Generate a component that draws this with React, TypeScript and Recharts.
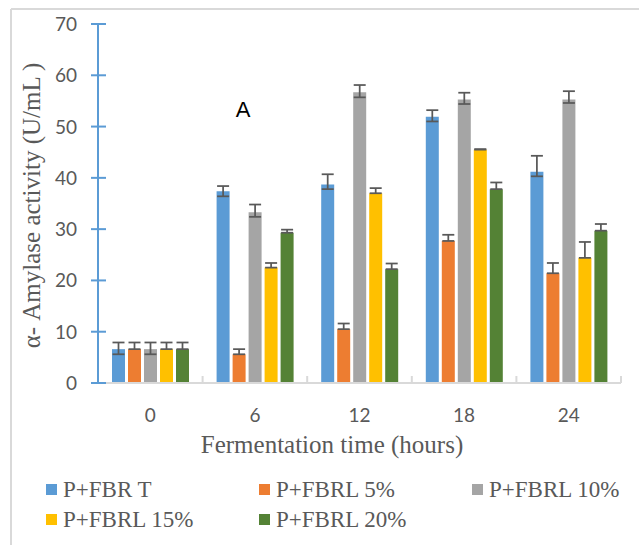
import React from 'react';
import { BarChart, Bar, XAxis, YAxis, ErrorBar, Label } from 'recharts';

// fermentation time (hours)
const hours = ['0', '6', '12', '18', '24'];
const yTicks = [0, 10, 20, 30, 40, 50, 60, 70];

// alpha-amylase activity (U/mL)
const fbrT = [6.6, 37.4, 38.7, 51.9, 41.2];
const fbrl5 = [6.6, 5.6, 10.5, 27.7, 21.4];
const fbrl10 = [6.6, 33.3, 56.7, 55.3, 55.3];
const fbrl15 = [6.6, 22.5, 37.0, 45.5, 24.4];
const fbrl20 = [6.6, 29.3, 22.2, 37.8, 29.7];

// error bars as [minus, plus]
const fbrTErr = [[1.0, 1.3], [1.0, 1.0], [0.9, 2.0], [0.9, 1.3], [0.9, 3.1]];
const fbrl5Err = [[0, 1.3], [0, 1.0], [0, 1.1], [0, 1.2], [0, 2.0]];
const fbrl10Err = [[1.0, 1.3], [0.9, 1.5], [1.0, 1.4], [0.9, 1.3], [0.7, 1.6]];
const fbrl15Err = [[0, 1.3], [0, 0.9], [0, 1.0], [0, 0.1], [0, 3.1]];
const fbrl20Err = [[0, 1.3], [0, 0.6], [0, 1.1], [0, 1.3], [0, 1.3]];

const series = [
  { key: 'fbrT', name: 'P+FBR T', color: '#5B9BD5', values: fbrT, err: fbrTErr },
  { key: 'fbrl5', name: 'P+FBRL 5%', color: '#ED7D31', values: fbrl5, err: fbrl5Err },
  { key: 'fbrl10', name: 'P+FBRL 10%', color: '#A5A5A5', values: fbrl10, err: fbrl10Err },
  { key: 'fbrl15', name: 'P+FBRL 15%', color: '#FFC000', values: fbrl15, err: fbrl15Err },
  { key: 'fbrl20', name: 'P+FBRL 20%', color: '#548235', values: fbrl20, err: fbrl20Err },
];

const data = hours.map((h, i) => {
  const row: Record<string, any> = { hour: h };
  series.forEach(s => {
    row[s.key] = s.values[i];
    row[s.key + 'Err'] = s.err[i];
  });
  return row;
});

const W = 639;
const H = 545;
const PLOT_LEFT = 98;
const PLOT_RIGHT = 621;
const PLOT_BOTTOM = 383;
const BAND = (PLOT_RIGHT - PLOT_LEFT) / hours.length;
const AXIS_BLUE = '#5B9BD5';
const TEXT = '#595959';
const LIGHT = '#d9d9d9';

const YTick = (props: any) => {
  const { y, payload } = props;
  return (
    <g>
      <line x1={PLOT_LEFT - 7} x2={PLOT_LEFT + 8} y1={y} y2={y} stroke={AXIS_BLUE} strokeWidth={2} />
      <text x={77} y={y + 7} textAnchor="end" fill={TEXT} fontSize={19} fontFamily="Lato, sans-serif">
        {payload.value}
      </text>
    </g>
  );
};

const XTick = (props: any) => {
  const { x, payload, index } = props;
  return (
    <g>
      {index > 0 && (
        <line x1={x - BAND / 2} x2={x - BAND / 2} y1={PLOT_BOTTOM - 7} y2={PLOT_BOTTOM} stroke={LIGHT} strokeWidth={2} />
      )}
      {index === hours.length - 1 && (
        <line x1={x + BAND / 2} x2={x + BAND / 2} y1={PLOT_BOTTOM - 7} y2={PLOT_BOTTOM} stroke={LIGHT} strokeWidth={2} />
      )}
      <text x={x} y={422} textAnchor="middle" fill={TEXT} fontSize={19} fontFamily="Lato, sans-serif">
        {payload.value}
      </text>
    </g>
  );
};

const XTitle = (props: any) => {
  const vb = props.viewBox;
  return (
    <text x={vb.x + 234} y={453} textAnchor="middle" fill={TEXT} fontSize={25} fontFamily="'Liberation Serif', serif">
      Fermentation time (hours)
    </text>
  );
};

const YTitle = (props: any) => {
  const vb = props.viewBox;
  const cy = vb.y + vb.height / 2 + 2;
  return (
    <text x={40} y={cy} transform={`rotate(-90, 40, ${cy})`} textAnchor="middle" fill={TEXT} fontSize={25} fontFamily="'Liberation Serif', serif">
      α- Amylase activity (U/mL )
    </text>
  );
};

const legendCols = [46, 259, 472];

export default function App() {
  return (
    <div style={{ position: 'absolute', left: 0, top: 0, width: W, height: H, background: '#fff' }}>
      <BarChart
        width={W}
        height={H}
        data={data}
        margin={{ top: 24, right: W - PLOT_RIGHT, left: 0, bottom: H - PLOT_BOTTOM - 40 }}
        barSize={13}
        barGap={3}
      >
        <XAxis
          dataKey="hour"
          height={40}
          axisLine={{ stroke: LIGHT, strokeWidth: 2 }}
          tickLine={false}
          tick={<XTick />}
          interval={0}
        >
          <Label content={<XTitle />} />
        </XAxis>
        <YAxis
          width={PLOT_LEFT}
          domain={[0, 70]}
          ticks={yTicks}
          interval={0}
          axisLine={{ stroke: AXIS_BLUE, strokeWidth: 2 }}
          tickLine={false}
          tickSize={0}
          tick={<YTick />}
        >
          <Label content={<YTitle />} />
        </YAxis>
        {series.map(s => (
          <Bar key={s.key} dataKey={s.key} name={s.name} fill={s.color} isAnimationActive={false}>
            <ErrorBar dataKey={s.key + 'Err'} width={6} stroke="#595959" strokeWidth={1.75} direction="y" />
          </Bar>
        ))}
      </BarChart>
      <svg width={W} height={H} style={{ position: 'absolute', left: 0, top: 0, pointerEvents: 'none' }}>
        <line x1={11} x2={W} y1={9} y2={9} stroke={LIGHT} strokeWidth={2} />
        <line x1={11} x2={11} y1={9} y2={H} stroke={LIGHT} strokeWidth={2} />
        <text x={243} y={117} textAnchor="middle" fill="#000" fontSize={22} fontFamily="'Liberation Sans', Arial, sans-serif">
          A
        </text>
        {series.map((s, i) => {
          const col = legendCols[i % 3];
          const row = Math.floor(i / 3);
          const base = 497 + row * 30;
          return (
            <g key={s.key}>
              <rect x={col} y={base - 13} width={11} height={11} fill={s.color} />
              <text x={col + 17} y={base} fill={TEXT} fontSize={23} fontFamily="'Liberation Serif', serif">
                {s.name}
              </text>
            </g>
          );
        })}
      </svg>
    </div>
  );
}
